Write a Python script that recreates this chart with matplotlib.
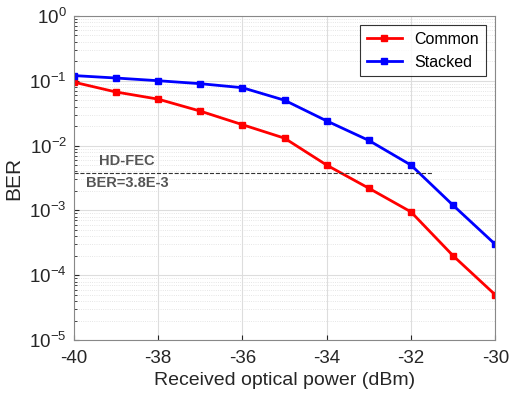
import matplotlib
matplotlib.use("Agg")
import matplotlib.pyplot as plt
import numpy as np

plt.rcParams['font.family'] = ['Liberation Sans', 'DejaVu Sans']
plt.rcParams['axes.unicode_minus'] = False

power = [-40, -39, -38, -37, -36, -35, -34, -33, -32, -31, -30]
ber_common = [0.095, 0.067, 0.052, 0.034, 0.021, 0.013, 0.005, 0.0022, 0.00095, 0.0002, 0.00005]
ber_stacked = [0.12, 0.11, 0.10, 0.09, 0.078, 0.05, 0.024, 0.012, 0.005, 0.0012, 0.0003]
fec_limit = 3.8e-3

fig = plt.figure(figsize=(5.09, 3.96), dpi=100)
ax = fig.add_axes([0.145, 0.141, 0.828, 0.819])

ax.plot(power, ber_common, '-s', color='#ff0000', lw=2, ms=5, label='Common')
ax.plot(power, ber_stacked, '-s', color='#0000ff', lw=2, ms=5, label='Stacked')
ax.plot([-40, -31.5], [fec_limit, fec_limit], '--', color='#333333', lw=0.8)
ax.text(-39.4, 5.0e-3, 'HD-FEC', color='#555555', fontsize=10.5, fontweight='bold')
ax.text(-39.7, 2.3e-3, 'BER=3.8E-3', color='#555555', fontsize=10.5, fontweight='bold')

ax.set_yscale('log')
ax.set_xlim(-40, -30)
ax.set_ylim(1e-5, 1)
ax.set_xticks(np.arange(-40, -29, 2))
ax.grid(which='major', color='#dddddd', lw=0.8)
ax.grid(which='minor', color='#dddddd', lw=0.6, ls=':')
ax.tick_params(labelsize=13.5, colors='#262626', direction='in', which='both')
ax.tick_params(axis='x', pad=7)
ax.tick_params(axis='y', pad=5)
for s in ax.spines.values():
    s.set_color('#888888')
ax.set_xlabel('Received optical power (dBm)', fontsize=14, color='#262626', labelpad=4)
ax.set_ylabel('BER', fontsize=15, color='#262626', labelpad=4)
leg = ax.legend(loc='upper right', fontsize=11.5, fancybox=False, edgecolor='black',
                handlelength=2.2, borderaxespad=0.6)
leg.get_frame().set_linewidth(0.8)

fig.savefig('out.png', dpi=100)
